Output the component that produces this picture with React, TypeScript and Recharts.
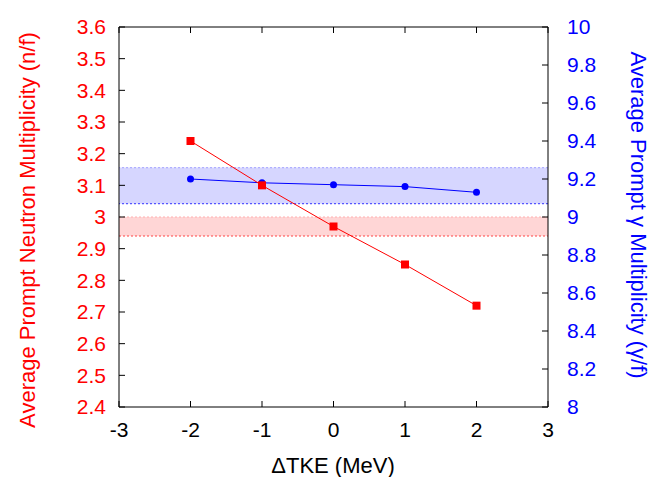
import React from 'react';
import {
  ComposedChart,
  Line,
  XAxis,
  YAxis,
  ReferenceArea,
  ReferenceLine,
} from 'recharts';

// ΔTKE shifts (MeV)
const dTKE = [-2, -1, 0, 1, 2];
// average prompt neutron multiplicity (n/f), left axis
const neutron = [3.24, 3.1, 2.97, 2.85, 2.72];
// average prompt gamma multiplicity (γ/f), right axis
const gamma = [9.2, 9.18, 9.17, 9.16, 9.13];

// evaluated bands
const neutronBand = [2.94, 3.0];
const gammaBand = [9.07, 9.26];

const xTicks = [-3, -2, -1, 0, 1, 2, 3];
const nTicks = [2.4, 2.5, 2.6, 2.7, 2.8, 2.9, 3, 3.1, 3.2, 3.3, 3.4, 3.5, 3.6];
const gTicks = [8, 8.2, 8.4, 8.6, 8.8, 9, 9.2, 9.4, 9.6, 9.8, 10];

const data = dTKE.map((x, i) => ({ x, n: neutron[i], g: gamma[i] }));

const FONT = '"Liberation Sans", Arial, Helvetica, sans-serif';
const RED = '#ff0000';
const BLUE = '#0000ff';

const Square = (p: any) => (
  <rect key={`sq-${p.index}`} x={p.cx - 4} y={p.cy - 4} width={8} height={8} fill={RED} />
);

export default function App() {
  return (
    <div style={{ position: 'absolute', left: 0, top: 0, fontFamily: FONT }}>
      <ComposedChart
        width={661}
        height={477}
        data={data}
        margin={{ top: 26, right: 0, bottom: 30, left: 0 }}
        style={{ fontFamily: FONT }}
      >
        <XAxis
          xAxisId="b"
          dataKey="x"
          type="number"
          domain={[-3, 3]}
          ticks={xTicks}
          height={40}
          stroke="#000"
          tickSize={-6}
          tickMargin={21}
          tick={{ fill: '#000', fontSize: 21 }}
          label={{
            content: () => (
              <text x={333} y={473} textAnchor="middle" fontSize={22} fill="#000">
                ΔTKE (MeV)
              </text>
            ),
          }}
        />
        <XAxis
          xAxisId="t"
          dataKey="x"
          type="number"
          orientation="top"
          domain={[-3, 3]}
          ticks={xTicks}
          height={1}
          stroke="#000"
          tickSize={-6}
          tickFormatter={() => ''}
        />
        <YAxis
          yAxisId="n"
          domain={[2.4, 3.6]}
          ticks={nTicks}
          width={119}
          stroke="#000"
          tickSize={-6}
          tickMargin={19}
          tick={{ fill: RED, fontSize: 21 }}
          interval={0}
          label={{
            content: () => (
              <text
                x={27}
                y={230}
                transform="rotate(-90 27 230)"
                textAnchor="middle"
                dominantBaseline="central"
                fontSize={22}
                fill={RED}
              >
                Average Prompt Neutron Multiplicity (n/f)
              </text>
            ),
          }}
        />
        <YAxis
          yAxisId="g"
          orientation="right"
          domain={[8, 10]}
          ticks={gTicks}
          width={113}
          stroke="#000"
          tickSize={-6}
          tickMargin={25}
          tick={{ fill: BLUE, fontSize: 21 }}
          interval={0}
          label={{
            content: () => (
              <text
                x={638}
                y={215}
                transform="rotate(90 638 215)"
                textAnchor="middle"
                dominantBaseline="central"
                fontSize={22}
                fill={BLUE}
              >
                Average Prompt γ Multiplicity (γ/f)
              </text>
            ),
          }}
        />

        <ReferenceArea
          xAxisId="b"
          yAxisId="g"
          y1={gammaBand[0]}
          y2={gammaBand[1]}
          fill={BLUE}
          fillOpacity={0.16}
          stroke="none"
        />
        <ReferenceLine xAxisId="b" yAxisId="g" y={gammaBand[0]} stroke="#5555ff" strokeDasharray="2 2" strokeWidth={1.2} />
        <ReferenceLine xAxisId="b" yAxisId="g" y={gammaBand[1]} stroke="#b0b0ff" strokeDasharray="2 2" strokeWidth={1.2} />

        <ReferenceArea
          xAxisId="b"
          yAxisId="n"
          y1={neutronBand[0]}
          y2={neutronBand[1]}
          fill={RED}
          fillOpacity={0.16}
          stroke="none"
        />
        <ReferenceLine xAxisId="b" yAxisId="n" y={neutronBand[0]} stroke="#ff4444" strokeDasharray="2 2" strokeWidth={1.2} />
        <ReferenceLine xAxisId="b" yAxisId="n" y={neutronBand[1]} stroke="#ffb0b0" strokeDasharray="2 2" strokeWidth={1} />

        <Line
          xAxisId="b"
          yAxisId="g"
          dataKey="g"
          stroke={BLUE}
          strokeWidth={1}
          dot={{ r: 3.5, fill: BLUE, stroke: BLUE, strokeWidth: 0 }}
          isAnimationActive={false}
        />
        <Line
          xAxisId="b"
          yAxisId="n"
          dataKey="n"
          stroke={RED}
          strokeWidth={1}
          dot={Square}
          isAnimationActive={false}
        />
      </ComposedChart>
    </div>
  );
}
